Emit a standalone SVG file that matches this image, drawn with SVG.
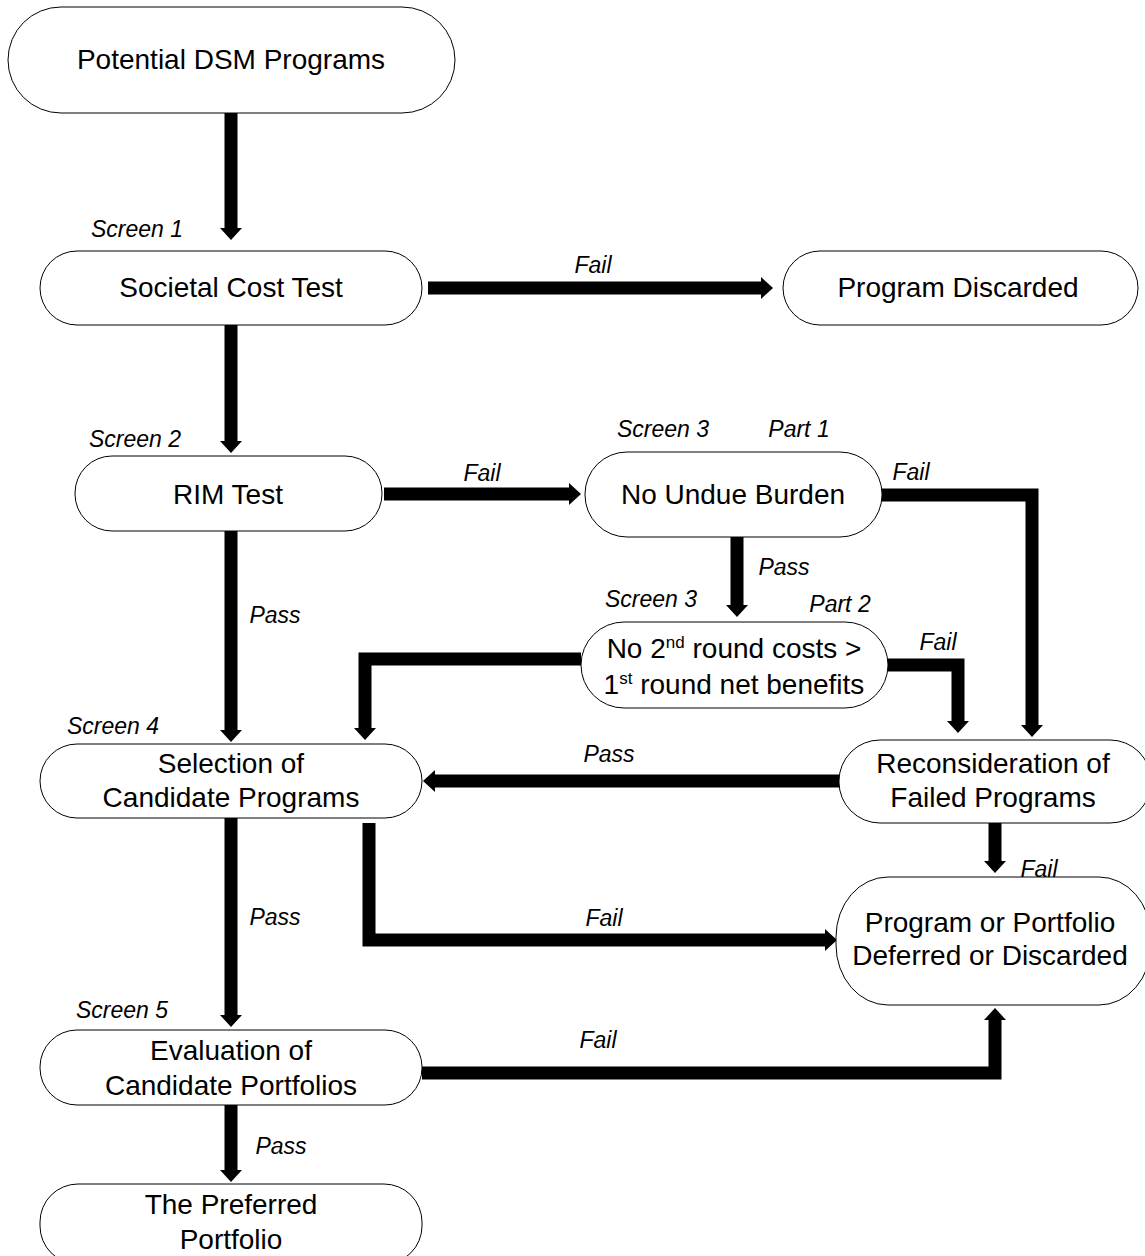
<svg xmlns="http://www.w3.org/2000/svg" width="1145" height="1256" viewBox="0 0 1145 1256">
<style>
.node{fill:#fff;stroke:#000;stroke-width:1}
.t{font-family:"Liberation Sans",Arial,sans-serif;font-size:28px;fill:#000;text-anchor:middle}
.l{font-family:"Liberation Sans",Arial,sans-serif;font-size:23px;font-style:italic;fill:#000;text-anchor:middle}
.c{fill:none;stroke:#000;stroke-width:13;stroke-linejoin:miter;marker-end:url(#ah)}
</style>
<defs>
<marker id="ah" markerUnits="userSpaceOnUse" markerWidth="14" markerHeight="24" refX="0" refY="11" orient="auto" overflow="visible">
<path d="M0,0 L12,11 L0,22 Z" fill="#000"/>
</marker>
</defs>
<rect width="1145" height="1256" fill="#fff"/>
<g id="connectors">
<path class="c" d="M231,113 V228"/>
<path class="c" d="M231,325 V441"/>
<path class="c" d="M428,288 H761"/>
<path class="c" d="M384,494 H569"/>
<path class="c" d="M882,495 H1032 V725"/>
<path class="c" d="M737,537 V605"/>
<path class="c" d="M581,659 H365 V728"/>
<path class="c" d="M888,665 H958 V721"/>
<path class="c" d="M839,781 H435"/>
<path class="c" d="M231,531 V730"/>
<path class="c" d="M231,818 V1015"/>
<path class="c" d="M995,823 V861"/>
<path class="c" d="M369,823 V940 H825"/>
<path class="c" d="M422,1073 H995 V1020"/>
<path class="c" d="M231,1105 V1170"/>
</g>
<g id="labels">
<text class="l" x="137" y="237">Screen 1</text>
<text class="l" x="593" y="273">Fail</text>
<text class="l" x="135" y="447">Screen 2</text>
<text class="l" x="663" y="437">Screen 3</text>
<text class="l" x="799" y="437">Part 1</text>
<text class="l" x="482" y="481">Fail</text>
<text class="l" x="911" y="480">Fail</text>
<text class="l" x="784" y="575">Pass</text>
<text class="l" x="651" y="607">Screen 3</text>
<text class="l" x="840" y="612">Part 2</text>
<text class="l" x="938" y="650">Fail</text>
<text class="l" x="275" y="623">Pass</text>
<text class="l" x="113" y="734">Screen 4</text>
<text class="l" x="609" y="762">Pass</text>
<text class="l" x="275" y="925">Pass</text>
<text class="l" x="604" y="926">Fail</text>
<text class="l" x="122" y="1018">Screen 5</text>
<text class="l" x="598" y="1048">Fail</text>
<text class="l" x="281" y="1154">Pass</text>
</g>
<g id="n1"><rect class="node" x="8" y="7" width="447" height="106" rx="53" ry="53"/><text class="t" x="231" y="69">Potential DSM Programs</text></g>
<g id="n2"><rect class="node" x="40" y="251" width="382" height="74" rx="37" ry="37"/><text class="t" x="231" y="297">Societal Cost Test</text></g>
<g id="n3"><rect class="node" x="783" y="251" width="355" height="74" rx="37" ry="37"/><text class="t" x="958" y="297">Program Discarded</text></g>
<g id="n4"><rect class="node" x="75" y="456" width="307" height="75" rx="37" ry="37"/><text class="t" x="228" y="504">RIM Test</text></g>
<g id="n5"><rect class="node" x="585" y="452" width="297" height="85" rx="42" ry="42"/><text class="t" x="733" y="504">No Undue Burden</text></g>
<g id="n6"><rect class="node" x="581" y="622" width="307" height="86" rx="43" ry="43"/><text class="t" x="734" y="658">No 2<tspan font-size="17" dy="-10">nd</tspan><tspan dy="10"> round costs &gt;</tspan></text><text class="t" x="734" y="694">1<tspan font-size="17" dy="-10">st</tspan><tspan dy="10"> round net benefits</tspan></text></g>
<g id="n7"><rect class="node" x="40" y="744" width="382" height="74" rx="37" ry="37"/><text class="t" x="231" y="773">Selection of</text><text class="t" x="231" y="807">Candidate Programs</text></g>
<g id="n8"><rect class="node" x="839" y="740" width="312" height="83" rx="41" ry="41"/><text class="t" x="993" y="773">Reconsideration of</text><text class="t" x="993" y="807">Failed Programs</text></g>
<g id="n9"><rect class="node" x="836" y="877" width="315" height="128" rx="52" ry="60"/><text class="t" x="990" y="932">Program or Portfolio</text><text class="t" x="990" y="965">Deferred or Discarded</text></g>
<g id="n10"><rect class="node" x="40" y="1030" width="382" height="75" rx="37" ry="37"/><text class="t" x="231" y="1060">Evaluation of</text><text class="t" x="231" y="1095">Candidate Portfolios</text></g>
<g id="n11"><rect class="node" x="40" y="1184" width="382" height="80" rx="38" ry="38"/><text class="t" x="231" y="1214">The Preferred</text><text class="t" x="231" y="1249">Portfolio</text></g>
<text class="l" x="1039" y="877">Fail</text>
</svg>
